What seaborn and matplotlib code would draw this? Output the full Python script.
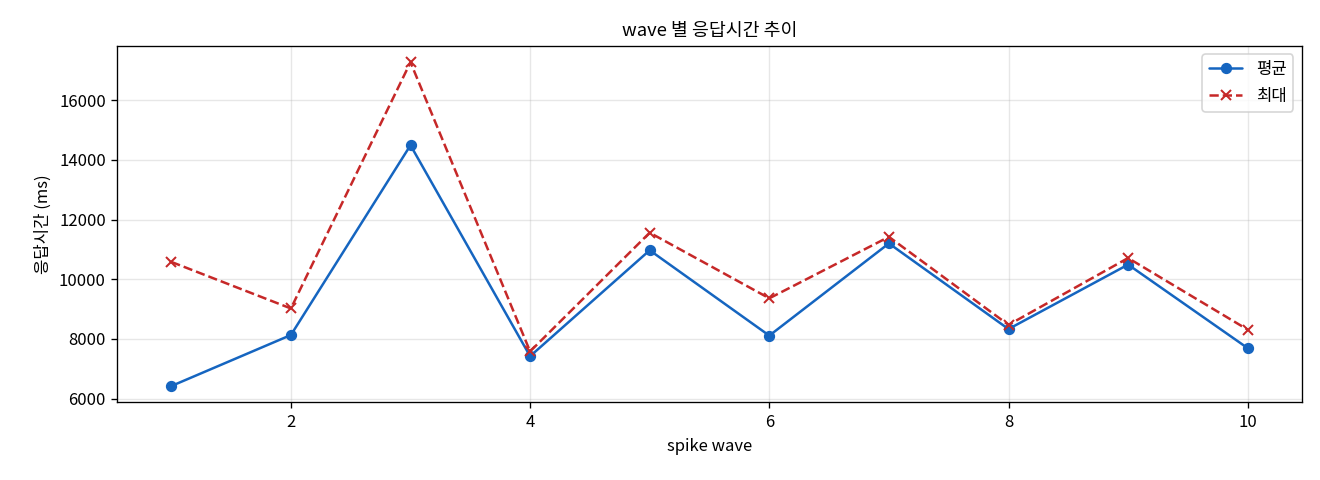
import numpy as np
import pandas as pd
import matplotlib
matplotlib.use('Agg')
import matplotlib.pyplot as plt
import seaborn as sns

waves = [1, 2, 3, 4, 5, 6, 7, 8, 9, 10]
avg_ms = [6420, 8130, 14490, 7420, 10970, 8110, 11200, 8330, 10490, 7690]
max_ms = [10580, 9020, 17270, 7580, 11560, 9360, 11420, 8470, 10710, 8310]

sns.set_style('ticks')
plt.rcParams['font.family'] = ['Noto Sans CJK KR', 'DejaVu Sans']
plt.rcParams['axes.unicode_minus'] = False
plt.rcParams['text.color'] = 'black'
plt.rcParams['axes.labelcolor'] = 'black'
plt.rcParams['xtick.color'] = 'black'
plt.rcParams['ytick.color'] = 'black'
plt.rcParams['axes.edgecolor'] = 'black'

df = pd.DataFrame({'wave': waves, 'avg': avg_ms, 'max': max_ms})

fig, ax = plt.subplots(figsize=(11, 4), dpi=120)
sns.lineplot(data=df, x='wave', y='avg', marker='o', color='#1565C0',
             markeredgecolor='#1565C0', markersize=6, linewidth=1.5, label='평균', ax=ax)
sns.lineplot(data=df, x='wave', y='max', marker='x', color='#C62828',
             markeredgecolor='#C62828', markeredgewidth=1.2,
             markersize=6, linewidth=1.5, linestyle='--', label='최대', ax=ax)

ax.set_title('wave 별 응답시간 추이', fontsize=11)
ax.set_xlabel('spike wave', fontsize=10)
ax.set_ylabel('응답시간 (ms)', fontsize=10)
ax.grid(True, color='#b0b0b0', alpha=0.3)
ax.legend(loc='upper right', fontsize=10, labelspacing=0.6)

plt.subplots_adjust(left=0.089, right=0.986, top=0.904, bottom=0.162)
plt.savefig('out.png', dpi=120)
